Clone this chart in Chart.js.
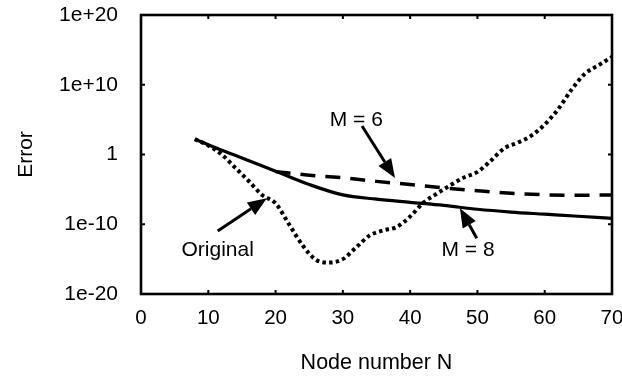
<!DOCTYPE html>
<html>
<head>
<meta charset="utf-8">
<script src="https://cdn.jsdelivr.net/npm/chart.js@4.4.1/dist/chart.umd.min.js"></script>
<style>
  html, body { margin: 0; padding: 0; background: #fff; }
</style>
</head>
<body>
<canvas id="errChart" width="622" height="376"></canvas>
<script>
// Node counts and errors for the approximation with M = 8 (solid)
const nodesM8 = [8, 10, 12, 15, 20, 25, 30, 35, 40, 45, 50, 55, 60, 65, 70];
const errorM8 = [1.6e2, 2.5e1, 4.0e0, 3.2e-1, 4.0e-3, 5.0e-5, 1.6e-6, 4.0e-7, 1.4e-7, 5.0e-8, 1.4e-8, 5.6e-9, 2.8e-9, 1.4e-9, 7.1e-10];

// Approximation with M = 6 (dashed)
const nodesM6 = [20, 25, 30, 35, 40, 45, 50, 55, 60, 65, 70];
const errorM6 = [3.5e-3, 1.1e-3, 4.5e-4, 1.4e-4, 5.0e-5, 1.6e-5, 6.3e-6, 2.8e-6, 1.7e-6, 1.4e-6, 1.6e-6];

// Original method (dotted)
const nodesOrig = [8, 10, 12, 14, 16, 18, 20, 22, 24, 26, 28, 30, 32, 34, 36, 38, 40, 42, 44, 46, 48, 50, 52, 54, 56, 58, 60, 62, 64, 66, 68, 70];
const errorOrig = [1.6e2, 2.0e1, 1.0e0, 1.3e-2, 1.6e-4, 1.6e-6, 1.0e-7, 1.0e-10, 1.0e-13, 7.9e-16, 3.2e-16, 1.0e-15, 5.0e-14, 2.5e-12, 1.3e-11, 4.0e-11, 1.3e-9, 1.3e-7, 2.5e-6, 4.0e-5, 5.0e-4, 3.2e-3, 1.3e-1, 7.9e0, 5.0e1, 5.0e2, 2.0e4, 3.2e6, 2.0e9, 4.0e11, 6.3e12, 1.0e14];

// Axis ticks
const xTickValues = [0, 10, 20, 30, 40, 50, 60, 70];
const yTickValues = [1e-20, 1e-10, 1, 1e10, 1e20];
const yTickLabels = ['1e-20', '1e-10', '1', '1e+10', '1e+20'];

// Callout labels with arrows, placed in data units [N, error]
const callouts = [
  { text: 'M = 6',    at: [32.0, 8.9e4],  from: [32.85, 1.2e4],  to: [37.75, 4.3e-4] },
  { text: 'Original', at: [11.4, 2.0e-14], from: [11.4, 1.1e-11], to: [18.7, 5.2e-7] },
  { text: 'M = 8',    at: [48.6, 2.0e-14], from: [49.9, 1.0e-12], to: [47.4, 2.0e-8] }
];

const FONT = "'Liberation Sans', Arial, Helvetica, sans-serif";
const toPoints = (xs, ys) => xs.map((n, i) => ({ x: n, y: ys[i] }));

// Box around the plot with small inward tick marks on every side
const framePlugin = {
  id: 'frame',
  afterDatasetsDraw(chart) {
    const { ctx, chartArea: a, scales: { x, y } } = chart;
    const t = 4;
    ctx.save();
    ctx.strokeStyle = '#000';
    ctx.lineWidth = 2;
    ctx.beginPath();
    xTickValues.forEach(v => {
      const px = x.getPixelForValue(v);
      ctx.moveTo(px, a.top); ctx.lineTo(px, a.top + t);
      ctx.moveTo(px, a.bottom); ctx.lineTo(px, a.bottom - t);
    });
    yTickValues.forEach(v => {
      const py = y.getPixelForValue(v);
      ctx.moveTo(a.left, py); ctx.lineTo(a.left + t, py);
      ctx.moveTo(a.right, py); ctx.lineTo(a.right - t, py);
    });
    ctx.stroke();
    ctx.lineWidth = 2.6;
    ctx.strokeRect(a.left, a.top, a.right - a.left, a.bottom - a.top);
    ctx.restore();
  }
};

// Text labels with arrows pointing at the curves
const calloutPlugin = {
  id: 'callouts',
  afterDraw(chart) {
    const { ctx, scales: { x, y } } = chart;
    ctx.save();
    ctx.fillStyle = '#000';
    ctx.strokeStyle = '#000';
    ctx.font = `21px ${FONT}`;
    ctx.textAlign = 'center';
    ctx.textBaseline = 'middle';
    callouts.forEach(c => {
      ctx.fillText(c.text, x.getPixelForValue(c.at[0]), y.getPixelForValue(c.at[1]));
      const x0 = x.getPixelForValue(c.from[0]), y0 = y.getPixelForValue(c.from[1]);
      const x1 = x.getPixelForValue(c.to[0]),   y1 = y.getPixelForValue(c.to[1]);
      const ang = Math.atan2(y1 - y0, x1 - x0);
      const headLen = 19, headHalf = 7.5;
      const bx = x1 - headLen * Math.cos(ang), by = y1 - headLen * Math.sin(ang);
      ctx.lineWidth = 3;
      ctx.beginPath();
      ctx.moveTo(x0, y0);
      ctx.lineTo(bx, by);
      ctx.stroke();
      ctx.beginPath();
      ctx.moveTo(x1, y1);
      ctx.lineTo(bx + headHalf * Math.sin(ang), by - headHalf * Math.cos(ang));
      ctx.lineTo(bx - headHalf * Math.sin(ang), by + headHalf * Math.cos(ang));
      ctx.closePath();
      ctx.fill();
    });
    ctx.restore();
  }
};

const lineBase = {
  borderColor: '#000',
  backgroundColor: '#000',
  pointRadius: 0,
  fill: false,
  cubicInterpolationMode: 'monotone',
  borderCapStyle: 'butt'
};

new Chart(document.getElementById('errChart'), {
  type: 'line',
  data: {
    datasets: [
      { ...lineBase, label: 'Original', data: toPoints(nodesOrig, errorOrig), borderWidth: 4, borderDash: [3.5, 3.2] },
      { ...lineBase, label: 'M = 6', data: toPoints(nodesM6, errorM6), borderWidth: 3.5, borderDash: [15, 10] },
      { ...lineBase, label: 'M = 8', data: toPoints(nodesM8, errorM8), borderWidth: 3.2 }
    ]
  },
  options: {
    responsive: false,
    animation: false,
    events: [],
    layout: { padding: { top: 15, right: 10, left: 0, bottom: 0 } },
    plugins: { legend: { display: false }, tooltip: { enabled: false } },
    scales: {
      x: {
        type: 'linear',
        min: 0,
        max: 70,
        afterBuildTicks: s => { s.ticks = xTickValues.map(v => ({ value: v })); },
        afterFit: s => { s.height = 82; s.paddingLeft = 0; s.paddingRight = 0; },
        grid: { display: false, drawTicks: false },
        border: { display: false },
        ticks: { color: '#000', font: { family: FONT, size: 20.5 }, padding: 12, autoSkip: false, maxRotation: 0 },
        title: { display: true, text: 'Node number N', color: '#000', font: { family: FONT, size: 21.5 }, padding: { top: 0, bottom: 0 } }
      },
      y: {
        type: 'logarithmic',
        min: 1e-20,
        max: 1e20,
        afterBuildTicks: s => { s.ticks = yTickValues.map(v => ({ value: v })); },
        afterFit: s => { s.width = 141; s.paddingTop = 0; s.paddingBottom = 0; },
        grid: { display: false, drawTicks: false },
        border: { display: false },
        ticks: {
          color: '#000',
          font: { family: FONT, size: 21 },
          padding: 23,
          autoSkip: false,
          callback: (v, i) => yTickLabels[i]
        },
        title: { display: true, text: 'Error', color: '#000', font: { family: FONT, size: 21 }, padding: { top: 14, bottom: 0 } }
      }
    }
  },
  plugins: [framePlugin, calloutPlugin]
});
</script>
</body>
</html>
